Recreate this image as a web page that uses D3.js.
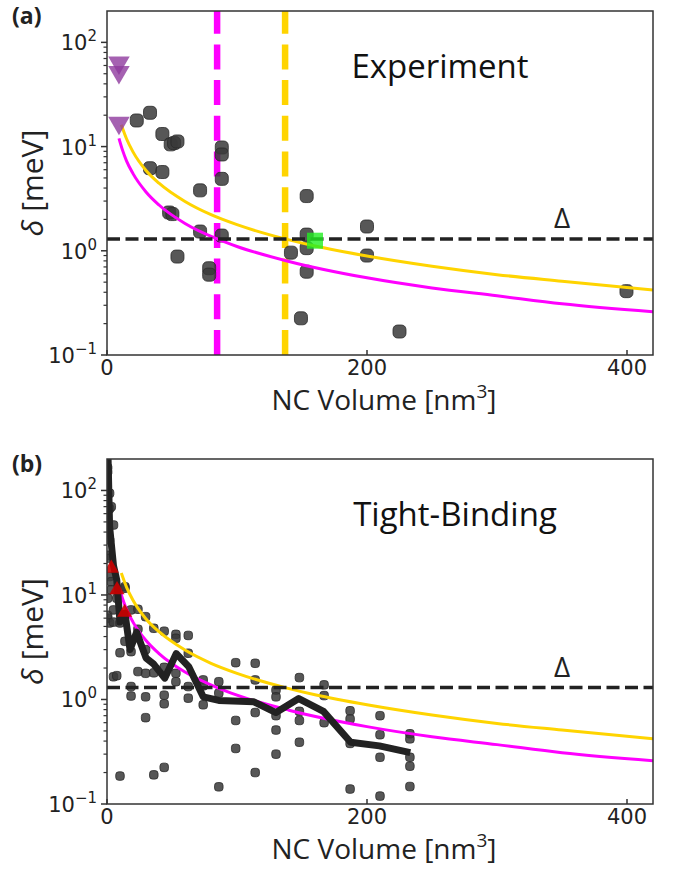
<!DOCTYPE html>
<html>
<head>
<meta charset="utf-8">
<script src="https://cdnjs.cloudflare.com/ajax/libs/d3/7.8.5/d3.min.js"></script>
<style>
body { margin: 0; background: #fff; }
</style>
</head>
<body>
<div id="chart"></div>
<script>
// panel (a) experiment, volume in nm^3, delta in meV
var expVolume = [22.9, 33.1, 42.6, 49, 51.6, 54.2, 33.1, 42.6, 71.6, 47.8, 50.3, 71.6, 54.2, 78.6, 78.6,
    88.3, 88.3, 88.3, 88.3, 141.5, 153.6, 153.6, 153.6, 153.6, 149.2, 200, 200, 225, 399.6];
var expDelta = [17.8, 21.1, 13.2, 10.5, 10.8, 11.2, 6.2, 5.7, 3.8, 2.33, 2.25, 1.53, 0.88, 0.68, 0.59,
    9.8, 8.4, 4.9, 1.4, 0.96, 3.35, 1.43, 1.06, 0.63, 0.225, 1.71, 0.9, 0.168, 0.41];

// upper bounds (purple triangles) and the green square
var boundVolume = [9.2, 9.2, 9.2];
var boundDelta = [63.8, 51.8, 16.9];
var squareVolume = [160];
var squareDelta = [1.25];

// panel (b) tight-binding points
var tbVolume = [0.5, 0.5, 0.5, 0.5, 0.5, 0.5,
    2, 2, 2, 2, 2, 2,
    3.3, 3.3, 3.3,
    5, 5, 5, 5,
    7.5, 7.5,
    10, 10, 10,
    13.8, 13.8, 13.8,
    18.5, 18.5, 18.5, 18.5,
    23.8, 23.8, 23.8,
    29.7, 29.7, 29.7, 29.7, 29.7,
    36, 36, 36,
    44, 44, 44, 44, 44,
    53, 53, 53, 53,
    62.5, 62.5, 62.5, 62.5,
    74, 74, 74,
    86, 86, 86,
    99, 99, 99,
    114, 114, 114, 114,
    130, 130, 130, 130, 130,
    148, 148, 148, 148,
    167, 167, 167,
    187, 187, 187, 187,
    210, 210, 210, 210,
    233, 233, 233, 233, 233];
var tbDelta = [165, 150, 24, 9.3, 6.0, 6.4,
    94, 67, 33.6, 22.4, 15, 5.4,
    70, 13.4, 11.2,
    46.7, 1.65, 7.2, 5.5,
    1.69, 9.3,
    5.4, 2.8, 0.185,
    11.6, 3.6, 12,
    7.2, 2.87, 1.33, 1.08,
    7.3, 4.7, 1.85,
    6.2, 3.0, 1.78, 1.06, 0.67,
    4.8, 1.8, 0.19,
    4.5, 2.03, 1.1, 0.91, 0.224,
    4.2, 3.85, 1.78, 1.48,
    4.1, 2.77, 1.33, 1.03,
    1.54, 1.35, 0.89,
    1.48, 1.15, 0.146,
    2.25, 0.63, 0.34,
    2.22, 1.54, 0.75, 0.2,
    1.23, 1.06, 0.7, 0.51, 0.3,
    1.62, 0.77, 0.63, 0.39,
    1.38, 1.09, 0.6,
    0.78, 0.65, 0.38, 0.139,
    0.7, 0.46, 0.28, 0.119,
    0.47, 0.42, 0.28, 0.23, 0.147];

// averaged tight-binding curve (thick black)
var avgVolume = [0.3, 2, 5, 7.5, 10, 13.8, 17.7, 22.8, 30, 35.6, 44.4, 53.3, 63, 74, 86, 113, 130, 147.5, 166.5, 187.4, 209.5, 233.3];
var avgDelta = [400, 45, 19, 13.9, 5.5, 6.7, 3.0, 4.4, 2.5, 2.2, 1.6, 2.75, 2.05, 1.06, 0.98, 0.95, 0.75, 1.02, 0.77, 0.39, 0.36, 0.31];

// red triangles in panel (b)
var redVolume = [3.3, 7.7, 13.6];
var redDelta = [18, 11.2, 6.8];

// model curves
var yellowVolume = [11, 15, 20, 30, 40, 60, 80, 100, 137, 160, 200, 250, 300, 350, 420];
var yellowDelta = [16.2, 11.9, 8.9, 5.9, 4.45, 2.97, 2.22, 1.78, 1.3, 1.11, 0.89, 0.71, 0.59, 0.51, 0.42];
var magentaVolume = [9.2, 12, 15, 20, 30, 40, 60, 84.7, 100, 140, 200, 250, 300, 350, 420];
var magentaDelta = [12, 9.2, 7.3, 5.5, 3.67, 2.75, 1.83, 1.3, 1.1, 0.79, 0.55, 0.44, 0.37, 0.31, 0.26];

// gap and cut-off volumes
var gapDelta = 1.3;
var cutVolumes = [84.7, 137];
var cutColors = ['#ff00ff', '#ffd400'];

var xTicks = [0, 200, 400];
var yTicks = [0.1, 1, 10, 100];
var yTickPowers = ['\u22121', '0', '1', '2'];

var width = 675, height = 878;
var left = 107, right = 653;

var svg = d3.select('#chart').append('svg')
    .attr('width', width)
    .attr('height', height);

function zip(a, b)
{
    return a.map(function(v, i) { return [v, b[i]]; });
}

function drawPanel(top, bottom, id, letter, title, titleX)
{
    var x = d3.scaleLinear().domain([0, 420]).range([left, right]);
    var y = d3.scaleLog().domain([0.1, 200]).range([bottom, top]);

    var g = svg.append('g');

    svg.append('clipPath').attr('id', id)
        .append('rect')
        .attr('x', left).attr('y', top)
        .attr('width', right - left).attr('height', bottom - top);

    var plot = g.append('g').attr('clip-path', 'url(#' + id + ')');

    //minor ticks on the log axis
    var minors = [];
    yTicks.forEach(function(t)
    {
        for (var k = 2; k <= 9; k++)
        {
            if (t * k < 200) minors.push(t * k);
        }
    });
    g.selectAll('.minor')
        .data(minors)
        .enter().append('line')
        .attr('x1', left - 3.5).attr('x2', left)
        .attr('y1', function(d) { return y(d); })
        .attr('y2', function(d) { return y(d); })
        .attr('stroke', '#333').attr('stroke-width', 1.2);

    g.selectAll('.major')
        .data(yTicks)
        .enter().append('line')
        .attr('x1', left - 6).attr('x2', left)
        .attr('y1', function(d) { return y(d); })
        .attr('y2', function(d) { return y(d); })
        .attr('stroke', '#333').attr('stroke-width', 1.5);

    var yl = g.selectAll('.ylab')
        .data(yTicks)
        .enter().append('text')
        .attr('x', left - 10)
        .attr('y', function(d) { return y(d) + 8; })
        .attr('text-anchor', 'end')
        .style('font-family', 'DejaVu Sans')
        .style('font-size', '21px')
        .style('fill', '#222');
    yl.append('tspan').text('10');
    yl.append('tspan')
        .attr('dy', -9)
        .style('font-size', '15px')
        .text(function(d, i) { return yTickPowers[i]; });

    g.selectAll('.xtick')
        .data(xTicks)
        .enter().append('line')
        .attr('x1', function(d) { return x(d); })
        .attr('x2', function(d) { return x(d); })
        .attr('y1', bottom - 5).attr('y2', bottom)
        .attr('stroke', '#333').attr('stroke-width', 1.5);

    g.selectAll('.xlab')
        .data(xTicks)
        .enter().append('text')
        .attr('x', function(d) { return x(d); })
        .attr('y', bottom + 20)
        .attr('text-anchor', 'middle')
        .style('font-family', 'DejaVu Sans')
        .style('font-size', '21px')
        .style('fill', '#222')
        .text(function(d) { return d; });

    //frame
    g.append('rect')
        .attr('x', left).attr('y', top)
        .attr('width', right - left).attr('height', bottom - top)
        .attr('fill', 'none')
        .attr('stroke', '#333').attr('stroke-width', 1.5);

    //axis labels
    var xl = g.append('text')
        .attr('x', 384)
        .attr('y', bottom + 55)
        .attr('text-anchor', 'middle')
        .style('font-family', 'Open Sans')
        .style('font-size', '28px')
        .style('fill', '#222');
    xl.append('tspan').text('NC Volume [nm');
    xl.append('tspan').attr('dy', -12).style('font-size', '19px').text('3');
    xl.append('tspan').attr('dy', 12).text(']');

    var ylab = g.append('text')
        .attr('transform', 'translate(43,' + ((top + bottom) / 2) + ') rotate(-90)')
        .attr('text-anchor', 'middle')
        .style('font-family', 'Open Sans')
        .style('font-size', '30px')
        .style('fill', '#222');
    ylab.append('tspan').style('font-style', 'italic').text('\u03b4');
    ylab.append('tspan').text(' [meV]');

    g.append('text')
        .attr('x', 12).attr('y', top + 13)
        .style('font-family', 'Open Sans')
        .style('font-weight', 'bold')
        .style('font-size', '23px')
        .style('fill', '#222')
        .text(letter);

    g.append('text')
        .attr('x', titleX).attr('y', top + 67)
        .attr('text-anchor', 'middle')
        .style('font-family', 'Open Sans')
        .style('font-size', '33px')
        .style('fill', '#111')
        .text(title);

    g.append('text')
        .attr('x', 562).attr('y', y(gapDelta) - 11)
        .attr('text-anchor', 'middle')
        .style('font-family', 'Open Sans')
        .style('font-size', '28px')
        .style('fill', '#222')
        .text('\u0394');

    return { x: x, y: y, plot: plot, top: top, bottom: bottom };
}

function roundSquares(p, vols, dels, size, fill, opacity)
{
    p.plot.append('g').selectAll('rect')
        .data(zip(vols, dels))
        .enter().append('rect')
        .attr('x', function(d) { return p.x(d[0]) - size / 2; })
        .attr('y', function(d) { return p.y(d[1]) - size / 2; })
        .attr('width', size).attr('height', size)
        .attr('rx', size * 0.35).attr('ry', size * 0.35)
        .attr('fill', fill)
        .attr('fill-opacity', opacity)
        .attr('stroke', '#2a2a2a')
        .attr('stroke-opacity', 0.8)
        .attr('stroke-width', 1);
}

function curve(p, vols, dels, color, w, curveType)
{
    var line = d3.line()
        .x(function(d) { return p.x(d[0]); })
        .y(function(d) { return p.y(d[1]); })
        .curve(curveType);
    p.plot.append('path')
        .datum(zip(vols, dels))
        .attr('d', line)
        .attr('fill', 'none')
        .attr('stroke', color)
        .attr('stroke-width', w)
        .attr('stroke-linejoin', 'round');
}

function gapLine(p)
{
    p.plot.append('line')
        .attr('x1', p.x(0)).attr('x2', p.x(420))
        .attr('y1', p.y(gapDelta)).attr('y2', p.y(gapDelta))
        .attr('stroke', '#222')
        .attr('stroke-width', 3.5)
        .attr('stroke-dasharray', '13,5.5');
}

function triangles(p, vols, dels, size, color, opacity, down)
{
    var sym = d3.symbol().type(d3.symbolTriangle).size(size);
    p.plot.append('g').selectAll('path')
        .data(zip(vols, dels))
        .enter().append('path')
        .attr('d', sym)
        .attr('transform', function(d)
        {
            return 'translate(' + p.x(d[0]) + ',' + p.y(d[1]) + ')' + (down ? ' rotate(180)' : '');
        })
        .attr('fill', color)
        .attr('fill-opacity', opacity);
}

//(a) Experiment
var pa = drawPanel(11, 355, 'clipA', '(a)', 'Experiment', 440);

pa.plot.selectAll('.cut')
    .data(cutVolumes)
    .enter().append('line')
    .attr('x1', function(d) { return pa.x(d); })
    .attr('x2', function(d) { return pa.x(d); })
    .attr('y1', pa.bottom).attr('y2', pa.top)
    .attr('stroke', function(d, i) { return cutColors[i]; })
    .attr('stroke-width', 6.5)
    .attr('stroke-dasharray', '25,10.7');

roundSquares(pa, expVolume, expDelta, 13, '#3a3a3a', 0.85);
curve(pa, yellowVolume, yellowDelta, '#ffd400', 3, d3.curveMonotoneX);
curve(pa, magentaVolume, magentaDelta, '#ff00ff', 3, d3.curveMonotoneX);
gapLine(pa);
triangles(pa, boundVolume, boundDelta, 200, '#8e3a9e', 0.8, true);

pa.plot.selectAll('.sq')
    .data(zip(squareVolume, squareDelta))
    .enter().append('rect')
    .attr('x', function(d) { return pa.x(d[0]) - 8; })
    .attr('y', function(d) { return pa.y(d[1]) - 8; })
    .attr('width', 16).attr('height', 16)
    .attr('fill', '#22ee22')
    .attr('fill-opacity', 0.8);

//(b) Tight-Binding
var pb = drawPanel(459, 804, 'clipB', '(b)', 'Tight-Binding', 455);

roundSquares(pb, tbVolume, tbDelta, 8.5, '#3a3a3a', 0.85);
curve(pb, yellowVolume, yellowDelta, '#ffd400', 3, d3.curveMonotoneX);
curve(pb, magentaVolume, magentaDelta, '#ff00ff', 3, d3.curveMonotoneX);
gapLine(pb);
curve(pb, avgVolume, avgDelta, '#222', 7, d3.curveLinear);
triangles(pb, redVolume, redDelta, 100, '#cc0000', 0.9, false);
</script>
</body>
</html>
